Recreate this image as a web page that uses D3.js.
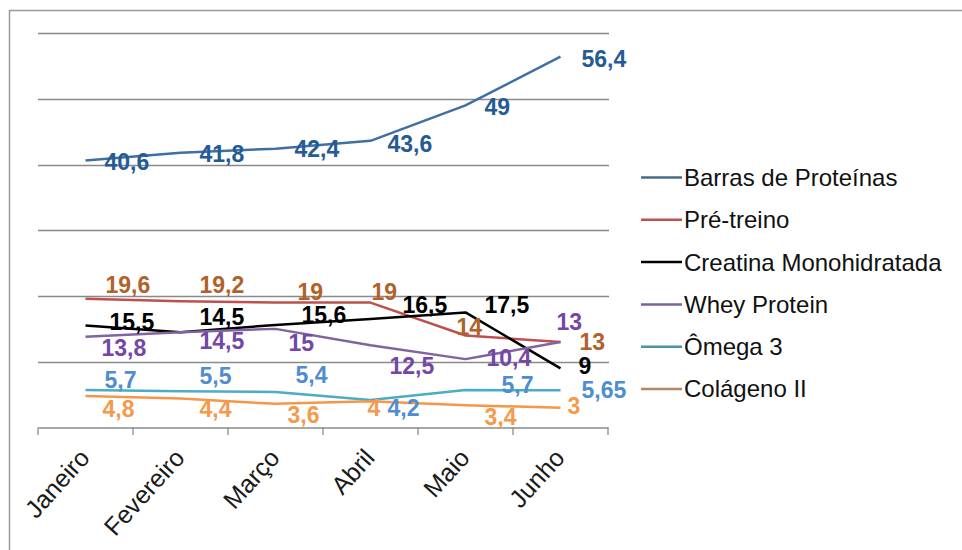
<!DOCTYPE html>
<html>
<head>
<meta charset="utf-8">
<script src="https://cdn.jsdelivr.net/npm/d3@7"></script>
<style>
  body { margin: 0; background: #fff; }
  svg { display: block; font-family: "Liberation Sans", Arial, sans-serif; }
</style>
</head>
<body>
<svg id="chart" width="962" height="550"></svg>
<script>
var months = ["Janeiro", "Fevereiro", "Março", "Abril", "Maio", "Junho"];
var seriesNames = ["Barras de Proteínas", "Pré-treino", "Creatina Monohidratada", "Whey Protein", "Ômega 3", "Colágeno II"];
var barras = [40.6, 41.8, 42.4, 43.6, 49, 56.4];
var pretreino = [19.6, 19.2, 19, 19, 14, 13];
var creatina = [15.5, 14.5, 15.6, 16.5, 17.5, 9];
var whey = [13.8, 14.5, 15, 12.5, 10.4, 13];
var omega = [5.7, 5.5, 5.4, 4.2, 5.7, 5.65];
var colageno = [4.8, 4.4, 3.6, 4, 3.4, 3];
var yTicks = [0, 10, 20, 30, 40, 50, 60];

// styles, one per series
var lineColors = ["#3f6fa3", "#c0504d", "#000000", "#8064a2", "#4bacc6", "#f79646"];
var labelColors = ["#245b94", "#b0622a", "#000000", "#7446a6", "#4e8dcf", "#f49a4c"];
var legendColors = ["#4a6d86", "#c0504d", "#000000", "#7a62a0", "#4a93a3", "#b08a62"];

// hand placed label offsets (from the point: left edge dx, vertical centre dy)
var labelOffsets = [
    [[19, 1], [19, 1], [19, 0], [17, 3], [19, 2], [21, 2]],
    [[20, -14], [19, -16], [22, -11], [1, -11], [-9, -9], [19, 0]],
    [[24, -4], [19, -15], [26, -10], [32, -14], [19, -7], [18, -2]],
    [[16, 11], [19, 9], [13, 14], [19, 21], [21, -1], [-4, -20]],
    [[19, -10], [19, -15], [20, -17], [17, 8], [36, -5], [21, 0]],
    [[17, 13], [19, 10], [12, 11], [-3, 7], [19, 12], [7, -2]]
];

var allSeries = [barras, pretreino, creatina, whey, omega, colageno];

var svg = d3.select("#chart");

// frame (only top and left visible)
svg.append("line").attr("x1", 9).attr("x2", 962).attr("y1", 10.5).attr("y2", 10.5)
    .attr("stroke", "#9a9a9a").attr("stroke-width", 1.5);
svg.append("line").attr("x1", 9.5).attr("x2", 9.5).attr("y1", 10).attr("y2", 550)
    .attr("stroke", "#9a9a9a").attr("stroke-width", 1.5);

var x = d3.scaleBand().domain(months).range([38, 608]).padding(0);
var y = d3.scaleLinear().domain([0, 60]).range([427.5, 33]);
var cx = function(i) { return x(months[i]) + x.bandwidth() / 2; };

// gridlines
svg.append("g").selectAll("line")
    .data(yTicks.slice(1))
    .enter()
    .append("line")
    .attr("x1", 38).attr("x2", 609)
    .attr("y1", function(d) { return Math.round(y(d)) + 0.5; })
    .attr("y2", function(d) { return Math.round(y(d)) + 0.5; })
    .attr("stroke", "#8a8a8a")
    .attr("stroke-width", 1.3);

// x axis
var xAxis = svg.append("g")
    .attr("transform", "translate(0," + 427.5 + ")")
    .call(d3.axisBottom(x).tickSize(0).tickFormat(""));
xAxis.select(".domain").attr("stroke", "#8a8a8a").attr("stroke-width", 1.3);
xAxis.selectAll(".tick").remove();

var tickPos = months.map(function(m) { return x(m); }).concat([608]);
svg.append("g").selectAll("line")
    .data(tickPos)
    .enter()
    .append("line")
    .attr("x1", function(d) { return d; }).attr("x2", function(d) { return d; })
    .attr("y1", 427.5).attr("y2", 435)
    .attr("stroke", "#8a8a8a")
    .attr("stroke-width", 1.3);

svg.append("g").selectAll("text")
    .data(months)
    .enter()
    .append("text")
    .attr("transform", function(d, i) { return "translate(" + (cx(i) - 1) + ",453) rotate(-48)"; })
    .attr("text-anchor", "end")
    .attr("dy", "0.35em")
    .attr("font-size", 25)
    .attr("fill", "#1a1a1a")
    .text(function(d) { return d; });

// lines
var line = d3.line()
    .x(function(d, i) { return cx(i); })
    .y(function(d) { return y(d); });

svg.append("g").selectAll("path")
    .data(allSeries)
    .enter()
    .append("path")
    .attr("d", line)
    .attr("fill", "none")
    .attr("stroke", function(d, i) { return lineColors[i]; })
    .attr("stroke-width", 2.5)
    .attr("stroke-linejoin", "round");

// data labels
allSeries.forEach(function(values, s) {
    svg.append("g").selectAll("text")
        .data(values)
        .enter()
        .append("text")
        .attr("x", function(d, i) { return cx(i) + labelOffsets[s][i][0]; })
        .attr("y", function(d, i) { return y(d) + labelOffsets[s][i][1]; })
        .attr("dy", "0.35em")
        .attr("font-size", 23)
        .attr("font-weight", "bold")
        .attr("fill", labelColors[s])
        .text(function(d) { return String(d).replace(".", ","); });
});

// legend
var legend = svg.append("g").selectAll("g")
    .data(seriesNames)
    .enter()
    .append("g")
    .attr("transform", function(d, i) { return "translate(641," + (177.5 + i * 42.3) + ")"; });
legend.append("line")
    .attr("x1", 0).attr("x2", 41)
    .attr("stroke", function(d, i) { return legendColors[i]; })
    .attr("stroke-width", 2.5);
legend.append("text")
    .attr("x", 43)
    .attr("dy", "0.35em")
    .attr("font-size", 24)
    .attr("fill", "#111")
    .text(function(d) { return d; });
</script>
</body>
</html>
